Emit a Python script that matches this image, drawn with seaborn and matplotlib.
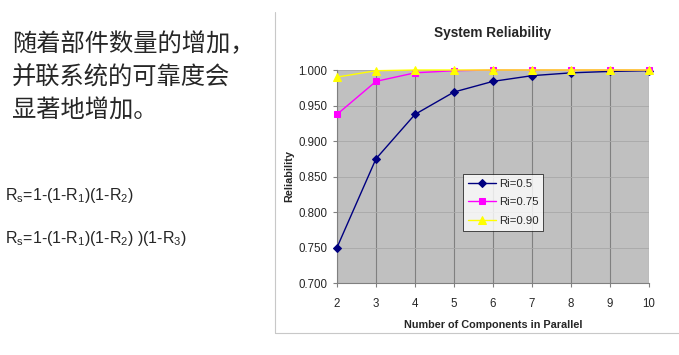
import numpy as np
import pandas as pd
import seaborn as sns
import matplotlib.pyplot as plt
from matplotlib.lines import Line2D

# 數據
n_components = [2, 3, 4, 5, 6, 7, 8, 9, 10]
r_050 = [0.750, 0.875, 0.9375, 0.969, 0.984, 0.992, 0.996, 0.998, 0.999]
r_075 = [0.9375, 0.984, 0.996, 0.999, 1.000, 1.000, 1.000, 1.000, 1.000]
r_090 = [0.990, 0.999, 1.000, 1.000, 1.000, 1.000, 1.000, 1.000, 1.000]
series_names = ["Ri=0.5", "Ri=0.75", "Ri=0.90"]

y_ticks = [0.700, 0.750, 0.800, 0.850, 0.900, 0.950, 1.000]

title_text = "System Reliability"
x_label = "Number of Components in Parallel"
y_label = "Reliability"

cn_lines = ["随着部件数量的增加，", "并联系统的可靠度会", "显著地增加。"]
formula_1 = r"R$_\mathregular{s}$=1-(1-R$_\mathregular{1}$)(1-R$_\mathregular{2}$)"
formula_2 = r"R$_\mathregular{s}$=1-(1-R$_\mathregular{1}$)(1-R$_\mathregular{2}$) )(1-R$_\mathregular{3}$)"

# 建立 long-form DataFrame
df = pd.DataFrame({
    "n": n_components * 3,
    "r": r_050 + r_075 + r_090,
    "series": [series_names[0]] * 9 + [series_names[1]] * 9 + [series_names[2]] * 9,
})

sns.set_style("white")
plt.rcParams['font.family'] = ['Liberation Sans', 'DejaVu Sans']

fig = plt.figure(figsize=(6.79, 3.55), dpi=100)
ax = fig.add_axes([337 / 679, 1 - 283 / 355, 312 / 679, 213 / 355])

palette = {"Ri=0.5": "#000080", "Ri=0.75": "#FF00FF", "Ri=0.90": "#FFFF00"}
markers = {"Ri=0.5": "D", "Ri=0.75": "s", "Ri=0.90": "^"}
sizes = {"Ri=0.5": 4, "Ri=0.75": 5, "Ri=0.90": 6}

for name in series_names:
    sub = df[df["series"] == name]
    sns.lineplot(data=sub, x="n", y="r", ax=ax, color=palette[name],
                 marker=markers[name], markersize=sizes[name],
                 markeredgecolor=palette[name], linewidth=1, label=name,
                 clip_on=False, zorder=3)

ax.set_facecolor("#C0C0C0")
ax.set_xlim(2, 10)
ax.set_ylim(0.700, 1.000)
ax.set_xticks(n_components)
ax.set_yticks(y_ticks)
ax.set_yticklabels([f"{v:.3f}" for v in y_ticks])
ax.grid(axis="x", color="#808080", linewidth=0.8)
ax.grid(axis="y", color="#A8A8A8", linewidth=0.6)
ax.set_axisbelow(True)
for s in ["top", "right"]:
    ax.spines[s].set_visible(False)
for s in ["left", "bottom"]:
    ax.spines[s].set_color("#808080")
    ax.spines[s].set_linewidth(0.8)
ax.tick_params(axis="both", which="both", length=3, color="#808080",
               labelsize=8.3, direction="out", pad=4, left=True, bottom=True)
ax.tick_params(axis="x", pad=8)

ax.set_title(title_text, fontsize=9.8, fontweight="bold", pad=24)
ax.set_xlabel(x_label, fontsize=7.8, fontweight="bold", labelpad=7)
ax.set_ylabel(y_label, fontsize=7.8, fontweight="bold", labelpad=3)

leg = ax.legend(loc="upper left", bbox_to_anchor=(0.405, 0.51), fontsize=8.2,
                frameon=True, fancybox=False, edgecolor="black",
                borderpad=0.4, handlelength=2.5, labelspacing=0.75,
                handletextpad=0.2, borderaxespad=0)
leg.get_frame().set_linewidth(0.6)
leg.get_frame().set_facecolor("white")

# 圖表外框
fig.add_artist(Line2D([275 / 679, 275 / 679], [1 - 12 / 355, 1 - 333 / 355],
                      color="#C8C8C8", linewidth=0.8))
fig.add_artist(Line2D([275 / 679, 1.0], [1 - 333 / 355, 1 - 333 / 355],
                      color="#C8C8C8", linewidth=0.8))

# 左側中文說明
for i, line in enumerate(cn_lines):
    fig.text(12 / 679, 1 - (44 + i * 33.5) / 355, line, fontsize=17.5,
             va="center", ha="left",
             family=['Noto Sans CJK SC', 'DejaVu Sans'])

fig.text(5 / 679, 1 - 195 / 355, formula_1, fontsize=11.5, va="center", ha="left")
fig.text(5 / 679, 1 - 239 / 355, formula_2, fontsize=11.5, va="center", ha="left")

fig.savefig("out.png", dpi=100, facecolor="white")
